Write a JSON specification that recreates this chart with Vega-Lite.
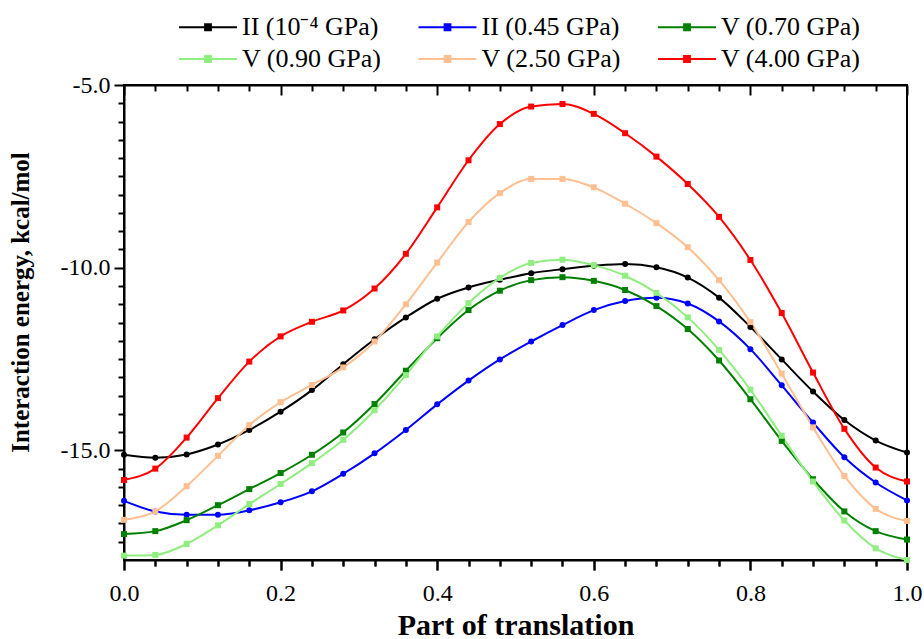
{
"$schema": "https://vega.github.io/schema/vega-lite/v6.json",
"width": 783, "height": 475,
"autosize": {"type": "none"},
"padding": {"left": 124, "top": 85, "right": 17, "bottom": 79},
"background": "white",
"config": {
 "font": "Liberation Serif",
 "view": {"stroke": "#000", "strokeWidth": 2},
 "axis": {"domainColor": "#000", "domainWidth": 2, "tickColor": "#000", "tickWidth": 2, "ticks": true, "tickOpacity": 1, "zindex": 1, "labelColor": "#000", "titleColor": "#000", "labelFont": "Liberation Serif", "titleFont": "Liberation Serif", "grid": false, "labelFontSize": 24, "titleFontWeight": "bold", "labelFlush": false, "labelOverlap": false}
},
"data": {"values": [
{"t":0,"s":"II (10⁻⁴ GPa)","v":-15.12},{"t":0.04,"s":"II (10⁻⁴ GPa)","v":-15.2},{"t":0.08,"s":"II (10⁻⁴ GPa)","v":-15.11},{"t":0.12,"s":"II (10⁻⁴ GPa)","v":-14.84},{"t":0.16,"s":"II (10⁻⁴ GPa)","v":-14.44},{"t":0.2,"s":"II (10⁻⁴ GPa)","v":-13.94},{"t":0.24,"s":"II (10⁻⁴ GPa)","v":-13.35},{"t":0.28,"s":"II (10⁻⁴ GPa)","v":-12.64},{"t":0.32,"s":"II (10⁻⁴ GPa)","v":-11.96},{"t":0.36,"s":"II (10⁻⁴ GPa)","v":-11.36},{"t":0.4,"s":"II (10⁻⁴ GPa)","v":-10.85},{"t":0.44,"s":"II (10⁻⁴ GPa)","v":-10.54},{"t":0.48,"s":"II (10⁻⁴ GPa)","v":-10.33},{"t":0.52,"s":"II (10⁻⁴ GPa)","v":-10.15},{"t":0.56,"s":"II (10⁻⁴ GPa)","v":-10.04},{"t":0.6,"s":"II (10⁻⁴ GPa)","v":-9.95},{"t":0.64,"s":"II (10⁻⁴ GPa)","v":-9.9},{"t":0.68,"s":"II (10⁻⁴ GPa)","v":-9.99},{"t":0.72,"s":"II (10⁻⁴ GPa)","v":-10.27},{"t":0.76,"s":"II (10⁻⁴ GPa)","v":-10.82},{"t":0.8,"s":"II (10⁻⁴ GPa)","v":-11.62},{"t":0.84,"s":"II (10⁻⁴ GPa)","v":-12.51},{"t":0.88,"s":"II (10⁻⁴ GPa)","v":-13.39},{"t":0.92,"s":"II (10⁻⁴ GPa)","v":-14.17},{"t":0.96,"s":"II (10⁻⁴ GPa)","v":-14.73},{"t":1,"s":"II (10⁻⁴ GPa)","v":-15.06},
{"t":0,"s":"II (0.45 GPa)","v":-16.38},{"t":0.04,"s":"II (0.45 GPa)","v":-16.67},{"t":0.08,"s":"II (0.45 GPa)","v":-16.76},{"t":0.12,"s":"II (0.45 GPa)","v":-16.76},{"t":0.16,"s":"II (0.45 GPa)","v":-16.64},{"t":0.2,"s":"II (0.45 GPa)","v":-16.42},{"t":0.24,"s":"II (0.45 GPa)","v":-16.12},{"t":0.28,"s":"II (0.45 GPa)","v":-15.64},{"t":0.32,"s":"II (0.45 GPa)","v":-15.08},{"t":0.36,"s":"II (0.45 GPa)","v":-14.44},{"t":0.4,"s":"II (0.45 GPa)","v":-13.74},{"t":0.44,"s":"II (0.45 GPa)","v":-13.09},{"t":0.48,"s":"II (0.45 GPa)","v":-12.51},{"t":0.52,"s":"II (0.45 GPa)","v":-12.02},{"t":0.56,"s":"II (0.45 GPa)","v":-11.57},{"t":0.6,"s":"II (0.45 GPa)","v":-11.16},{"t":0.64,"s":"II (0.45 GPa)","v":-10.91},{"t":0.68,"s":"II (0.45 GPa)","v":-10.82},{"t":0.72,"s":"II (0.45 GPa)","v":-10.98},{"t":0.76,"s":"II (0.45 GPa)","v":-11.47},{"t":0.8,"s":"II (0.45 GPa)","v":-12.23},{"t":0.84,"s":"II (0.45 GPa)","v":-13.22},{"t":0.88,"s":"II (0.45 GPa)","v":-14.24},{"t":0.92,"s":"II (0.45 GPa)","v":-15.19},{"t":0.96,"s":"II (0.45 GPa)","v":-15.88},{"t":1,"s":"II (0.45 GPa)","v":-16.37},
{"t":0,"s":"V (0.70 GPa)","v":-17.29},{"t":0.04,"s":"V (0.70 GPa)","v":-17.21},{"t":0.08,"s":"V (0.70 GPa)","v":-16.91},{"t":0.12,"s":"V (0.70 GPa)","v":-16.5},{"t":0.16,"s":"V (0.70 GPa)","v":-16.06},{"t":0.2,"s":"V (0.70 GPa)","v":-15.62},{"t":0.24,"s":"V (0.70 GPa)","v":-15.12},{"t":0.28,"s":"V (0.70 GPa)","v":-14.51},{"t":0.32,"s":"V (0.70 GPa)","v":-13.73},{"t":0.36,"s":"V (0.70 GPa)","v":-12.82},{"t":0.4,"s":"V (0.70 GPa)","v":-11.93},{"t":0.44,"s":"V (0.70 GPa)","v":-11.16},{"t":0.48,"s":"V (0.70 GPa)","v":-10.63},{"t":0.52,"s":"V (0.70 GPa)","v":-10.34},{"t":0.56,"s":"V (0.70 GPa)","v":-10.26},{"t":0.6,"s":"V (0.70 GPa)","v":-10.36},{"t":0.64,"s":"V (0.70 GPa)","v":-10.61},{"t":0.68,"s":"V (0.70 GPa)","v":-11.05},{"t":0.72,"s":"V (0.70 GPa)","v":-11.68},{"t":0.76,"s":"V (0.70 GPa)","v":-12.54},{"t":0.8,"s":"V (0.70 GPa)","v":-13.6},{"t":0.84,"s":"V (0.70 GPa)","v":-14.74},{"t":0.88,"s":"V (0.70 GPa)","v":-15.79},{"t":0.92,"s":"V (0.70 GPa)","v":-16.67},{"t":0.96,"s":"V (0.70 GPa)","v":-17.21},{"t":1,"s":"V (0.70 GPa)","v":-17.44},
{"t":0,"s":"V (0.90 GPa)","v":-17.88},{"t":0.04,"s":"V (0.90 GPa)","v":-17.86},{"t":0.08,"s":"V (0.90 GPa)","v":-17.56},{"t":0.12,"s":"V (0.90 GPa)","v":-17.05},{"t":0.16,"s":"V (0.90 GPa)","v":-16.47},{"t":0.2,"s":"V (0.90 GPa)","v":-15.92},{"t":0.24,"s":"V (0.90 GPa)","v":-15.35},{"t":0.28,"s":"V (0.90 GPa)","v":-14.71},{"t":0.32,"s":"V (0.90 GPa)","v":-13.9},{"t":0.36,"s":"V (0.90 GPa)","v":-12.94},{"t":0.4,"s":"V (0.90 GPa)","v":-11.88},{"t":0.44,"s":"V (0.90 GPa)","v":-10.97},{"t":0.48,"s":"V (0.90 GPa)","v":-10.28},{"t":0.52,"s":"V (0.90 GPa)","v":-9.87},{"t":0.56,"s":"V (0.90 GPa)","v":-9.78},{"t":0.6,"s":"V (0.90 GPa)","v":-9.93},{"t":0.64,"s":"V (0.90 GPa)","v":-10.22},{"t":0.68,"s":"V (0.90 GPa)","v":-10.69},{"t":0.72,"s":"V (0.90 GPa)","v":-11.36},{"t":0.76,"s":"V (0.90 GPa)","v":-12.25},{"t":0.8,"s":"V (0.90 GPa)","v":-13.34},{"t":0.84,"s":"V (0.90 GPa)","v":-14.6},{"t":0.88,"s":"V (0.90 GPa)","v":-15.85},{"t":0.92,"s":"V (0.90 GPa)","v":-16.92},{"t":0.96,"s":"V (0.90 GPa)","v":-17.68},{"t":1,"s":"V (0.90 GPa)","v":-18.0},
{"t":0,"s":"V (2.50 GPa)","v":-16.9},{"t":0.04,"s":"V (2.50 GPa)","v":-16.67},{"t":0.08,"s":"V (2.50 GPa)","v":-15.98},{"t":0.12,"s":"V (2.50 GPa)","v":-15.15},{"t":0.16,"s":"V (2.50 GPa)","v":-14.31},{"t":0.2,"s":"V (2.50 GPa)","v":-13.68},{"t":0.24,"s":"V (2.50 GPa)","v":-13.21},{"t":0.28,"s":"V (2.50 GPa)","v":-12.73},{"t":0.32,"s":"V (2.50 GPa)","v":-12.02},{"t":0.36,"s":"V (2.50 GPa)","v":-11.0},{"t":0.4,"s":"V (2.50 GPa)","v":-9.86},{"t":0.44,"s":"V (2.50 GPa)","v":-8.75},{"t":0.48,"s":"V (2.50 GPa)","v":-7.96},{"t":0.52,"s":"V (2.50 GPa)","v":-7.57},{"t":0.56,"s":"V (2.50 GPa)","v":-7.57},{"t":0.6,"s":"V (2.50 GPa)","v":-7.8},{"t":0.64,"s":"V (2.50 GPa)","v":-8.25},{"t":0.68,"s":"V (2.50 GPa)","v":-8.78},{"t":0.72,"s":"V (2.50 GPa)","v":-9.44},{"t":0.76,"s":"V (2.50 GPa)","v":-10.34},{"t":0.8,"s":"V (2.50 GPa)","v":-11.49},{"t":0.84,"s":"V (2.50 GPa)","v":-12.9},{"t":0.88,"s":"V (2.50 GPa)","v":-14.37},{"t":0.92,"s":"V (2.50 GPa)","v":-15.7},{"t":0.96,"s":"V (2.50 GPa)","v":-16.6},{"t":1,"s":"V (2.50 GPa)","v":-16.93},
{"t":0,"s":"V (4.00 GPa)","v":-15.81},{"t":0.04,"s":"V (4.00 GPa)","v":-15.5},{"t":0.08,"s":"V (4.00 GPa)","v":-14.65},{"t":0.12,"s":"V (4.00 GPa)","v":-13.57},{"t":0.16,"s":"V (4.00 GPa)","v":-12.57},{"t":0.2,"s":"V (4.00 GPa)","v":-11.88},{"t":0.24,"s":"V (4.00 GPa)","v":-11.48},{"t":0.28,"s":"V (4.00 GPa)","v":-11.17},{"t":0.32,"s":"V (4.00 GPa)","v":-10.57},{"t":0.36,"s":"V (4.00 GPa)","v":-9.62},{"t":0.4,"s":"V (4.00 GPa)","v":-8.35},{"t":0.44,"s":"V (4.00 GPa)","v":-7.06},{"t":0.48,"s":"V (4.00 GPa)","v":-6.07},{"t":0.52,"s":"V (4.00 GPa)","v":-5.59},{"t":0.56,"s":"V (4.00 GPa)","v":-5.52},{"t":0.6,"s":"V (4.00 GPa)","v":-5.79},{"t":0.64,"s":"V (4.00 GPa)","v":-6.32},{"t":0.68,"s":"V (4.00 GPa)","v":-6.96},{"t":0.72,"s":"V (4.00 GPa)","v":-7.71},{"t":0.76,"s":"V (4.00 GPa)","v":-8.61},{"t":0.8,"s":"V (4.00 GPa)","v":-9.79},{"t":0.84,"s":"V (4.00 GPa)","v":-11.24},{"t":0.88,"s":"V (4.00 GPa)","v":-12.87},{"t":0.92,"s":"V (4.00 GPa)","v":-14.41},{"t":0.96,"s":"V (4.00 GPa)","v":-15.47},{"t":1,"s":"V (4.00 GPa)","v":-15.85}
]},
"layer": [
 {"mark": {"type": "line", "interpolate": "monotone", "strokeWidth": 2},
  "encoding": {
   "x": {"field": "t", "type": "quantitative", "scale": {"domain": [0, 1], "nice": false, "zero": false},
         "axis": {"orient": "bottom", "values": [0,0.04,0.08,0.12,0.16,0.2,0.24,0.28,0.32,0.36,0.4,0.44,0.48,0.52,0.56,0.6,0.64,0.68,0.72,0.76,0.8,0.84,0.88,0.92,0.96,1],
           "labelExpr": "round(datum.value*100) % 20 == 0 ? format(datum.value, '.1f') : ''",
           "tickSize": {"condition": {"test": "round(datum.value*100) % 20 == 0", "value": 10}, "value": 6},
           "tickColor": "#000000",
           "labelPadding": 11, "title": "Part of translation", "titlePadding": 5, "titleFontSize": 30}},
   "y": {"field": "v", "type": "quantitative", "scale": {"domain": [-18, -5], "nice": false, "zero": false},
         "axis": {"orient": "left", "values": [-17.5,-17,-16.5,-16,-15.5,-15,-14.5,-14,-13.5,-13,-12.5,-12,-11.5,-11,-10.5,-10,-9.5,-9,-8.5,-8,-7.5,-7,-6.5,-6,-5.5,-5],
           "labelExpr": "datum.value % 5 == 0 ? replace(format(datum.value, '.1f'), '−', '-') : ''",
           "tickSize": {"condition": {"test": "datum.value % 5 == 0", "value": 10}, "value": 6},
           "labelPadding": 4, "title": "Interaction energy, kcal/mol", "titlePadding": 27, "titleFontSize": 25, "titleY": 217}},
   "color": {"field": "s", "type": "nominal",
     "scale": {"domain": ["II (10⁻⁴ GPa)", "II (0.45 GPa)", "V (0.70 GPa)", "V (0.90 GPa)", "V (2.50 GPa)", "V (4.00 GPa)"], "range": ["#000000", "#0000FF", "#008000", "#90EE80", "#FFBF90", "#FF0000"]},
     "legend": {"orient": "none", "legendX": 68.5, "legendY": -73.5, "direction": "horizontal", "columns": 3, "title": null,
       "symbolType": "M-2,0H2M-0.2,-0.2H0.2V0.2H-0.2Z", "symbolSize": 841, "symbolStrokeWidth": 2,
       "labelFontSize": 26, "labelFont": "Liberation Serif", "labelColor": "#000", "labelOffset": 18.5, "labelLimit": 300,
       "columnPadding": 32.5, "rowPadding": 3, "gridAlign": "all",
       "encode": {"symbols": {"update": {"fill": {"scale": "color", "field": "value"}, "stroke": {"scale": "color", "field": "value"}, "strokeWidth": {"value": 2}, "opacity": {"value": 1}}}}}}
  }},
 {"transform": [{"filter": "indexof(datum.s, 'II') == 0"}],
  "mark": {"type": "point", "filled": true, "opacity": 1, "size": 36, "shape": "circle"},
  "encoding": {
   "x": {"field": "t", "type": "quantitative", "axis": null},
   "y": {"field": "v", "type": "quantitative", "axis": null},
   "color": {"field": "s", "type": "nominal"}
  }},
 {"transform": [{"filter": "indexof(datum.s, 'II') != 0"}],
  "mark": {"type": "point", "filled": true, "opacity": 1, "size": 36, "shape": "square"},
  "encoding": {
   "x": {"field": "t", "type": "quantitative", "axis": null},
   "y": {"field": "v", "type": "quantitative", "axis": null},
   "color": {"field": "s", "type": "nominal"}
  }},
 {"mark": {"type": "point", "opacity": 0},
  "encoding": {
   "x": {"field": "t", "type": "quantitative", "axis": {"orient": "top", "values": [0,0.04,0.08,0.12,0.16,0.2,0.24,0.28,0.32,0.36,0.4,0.44,0.48,0.52,0.56,0.6,0.64,0.68,0.72,0.76,0.8,0.84,0.88,0.92,0.96,1], "labels": false,
     "tickSize": {"condition": {"test": "round(datum.value*100) % 20 == 0", "value": -10}, "value": -6}, "tickColor": "#000000", "title": null}},
   "y": {"field": "v", "type": "quantitative", "axis": null}
  }},
 {"mark": {"type": "point", "opacity": 0},
  "encoding": {
   "x": {"field": "t", "type": "quantitative", "axis": {"orient": "bottom", "values": [0,0.04,0.08,0.12,0.16,0.2,0.24,0.28,0.32,0.36,0.4,0.44,0.48,0.52,0.56,0.6,0.64,0.68,0.72,0.76,0.8,0.84,0.88,0.92,0.96,1], "labels": false,
     "tickSize": {"condition": {"test": "round(datum.value*100) % 20 == 0", "value": 10}, "value": 6}, "tickColor": "#000000", "title": null, "domain": false}},
   "y": {"field": "v", "type": "quantitative", "axis": null}
  }}
],
"resolve": {"axis": {"x": "independent", "y": "independent"}}
}
